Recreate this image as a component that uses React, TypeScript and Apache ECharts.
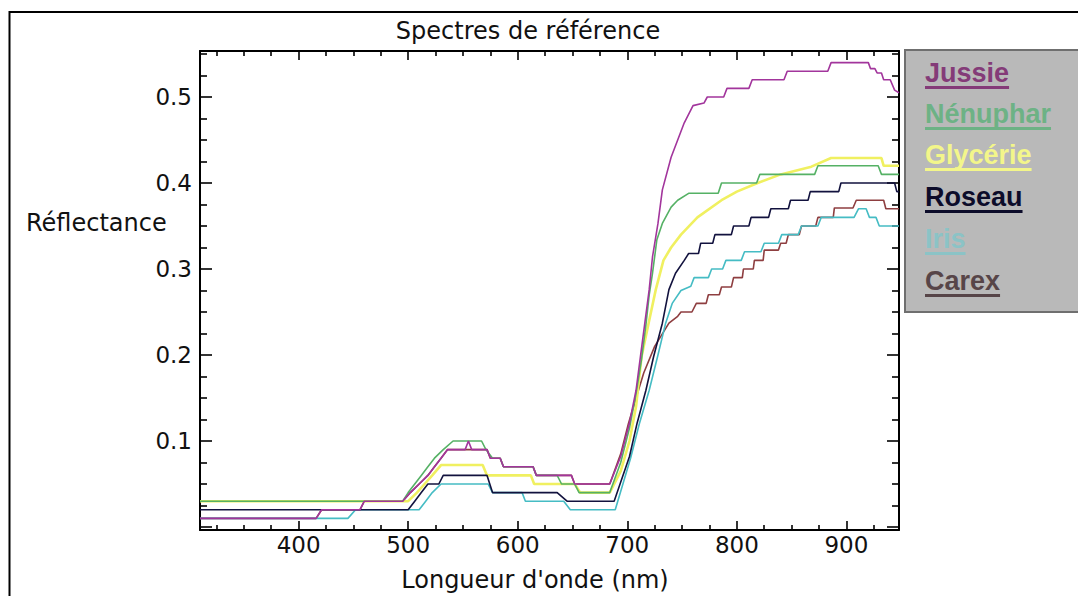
import React, { useEffect, useRef } from "react";
import * as echarts from "echarts";

// ---------- data ----------
const chartTitle = "Spectres de référence";
const xTitle = "Longueur d'onde (nm)";
const yTitle = "Réflectance";

const seriesNames = ["Jussie", "Nénuphar", "Glycérie", "Roseau", "Iris", "Carex"];

const jussie: [number, number][] = [
  [310, 0.01], [416, 0.01], [421, 0.02], [456, 0.02], [460, 0.03], [495, 0.03], [502, 0.04],
  [510, 0.05], [518, 0.06], [524, 0.07], [530, 0.08], [536, 0.09], [552, 0.09], [555, 0.1],
  [558, 0.09], [572, 0.09], [575, 0.08], [584, 0.08], [587, 0.07], [614, 0.07], [617, 0.06],
  [649, 0.06], [652, 0.05], [684, 0.05], [694, 0.082], [702, 0.121], [708, 0.159], [712, 0.198],
  [716, 0.237], [720, 0.276], [723, 0.314], [728, 0.353], [732, 0.392], [740, 0.43], [746, 0.45],
  [752, 0.47], [760, 0.49], [770, 0.493], [773, 0.5], [788, 0.5], [791, 0.51], [811, 0.51],
  [814, 0.52], [843, 0.52], [846, 0.53], [883, 0.53], [886, 0.54], [920, 0.54], [922, 0.533],
  [926, 0.533], [928, 0.528], [932, 0.528], [934, 0.52], [940, 0.52], [944, 0.508], [948, 0.505],
];

const nenuphar: [number, number][] = [
  [310, 0.03], [495, 0.03], [500, 0.04], [506, 0.05], [512, 0.06], [518, 0.07], [524, 0.08],
  [532, 0.09], [541, 0.1], [567, 0.1], [571, 0.09], [577, 0.08], [584, 0.08], [587, 0.07],
  [614, 0.07], [617, 0.06], [636, 0.06], [640, 0.05], [652, 0.05], [656, 0.04], [684, 0.04],
  [694, 0.075], [702, 0.115], [708, 0.155], [713, 0.195], [717, 0.235], [720, 0.27], [723, 0.295],
  [727, 0.334], [732, 0.353], [740, 0.372], [746, 0.38], [756, 0.388], [783, 0.388], [786, 0.4],
  [818, 0.4], [821, 0.41], [871, 0.41], [874, 0.42], [929, 0.42], [932, 0.41], [948, 0.41],
];

const glycerie: [number, number][] = [
  [310, 0.03], [500, 0.03], [508, 0.04], [515, 0.05], [522, 0.06], [530, 0.072], [568, 0.072],
  [572, 0.06], [612, 0.06], [615, 0.05], [652, 0.05], [657, 0.04], [684, 0.04], [694, 0.065],
  [702, 0.1], [708, 0.14], [713, 0.198], [720, 0.24], [726, 0.276], [733, 0.31], [740, 0.325],
  [749, 0.34], [764, 0.36], [786, 0.38], [800, 0.39], [819, 0.4], [840, 0.41], [868, 0.419],
  [886, 0.429], [932, 0.429], [934, 0.42], [948, 0.42],
];

const roseau: [number, number][] = [
  [310, 0.02], [500, 0.02], [506, 0.03], [512, 0.04], [518, 0.05], [528, 0.05], [532, 0.06],
  [572, 0.06], [577, 0.04], [636, 0.04], [645, 0.03],
  [688, 0.03], [702, 0.082], [709, 0.121], [717, 0.159], [724, 0.198], [732, 0.237], [738, 0.276],
  [744, 0.295], [752, 0.31], [756, 0.318], [765, 0.318], [767, 0.33], [778, 0.33], [780, 0.34],
  [795, 0.34], [797, 0.35], [811, 0.35], [813, 0.36], [829, 0.36], [831, 0.37], [847, 0.37],
  [849, 0.38], [865, 0.38], [867, 0.39], [893, 0.39], [895, 0.4], [944, 0.4], [946, 0.39], [948, 0.39],
];

const iris: [number, number][] = [
  [310, 0.01], [445, 0.01], [452, 0.02], [510, 0.02], [516, 0.03], [522, 0.04], [530, 0.05],
  [573, 0.05], [577, 0.04], [604, 0.04], [607, 0.03], [642, 0.03], [648, 0.02], [689, 0.02],
  [703, 0.08], [711, 0.12], [720, 0.159], [728, 0.2], [735, 0.237], [741, 0.26], [749, 0.275],
  [758, 0.28], [761, 0.29], [774, 0.29], [777, 0.3], [787, 0.3], [790, 0.31], [804, 0.31],
  [807, 0.32], [822, 0.32], [825, 0.33], [838, 0.33], [841, 0.34], [856, 0.34], [859, 0.35],
  [874, 0.35], [877, 0.36], [907, 0.36], [911, 0.37], [918, 0.37], [921, 0.36], [927, 0.36],
  [930, 0.35], [948, 0.35],
];

const carex: [number, number][] = [
  [310, 0.01], [416, 0.01], [421, 0.02], [456, 0.02], [460, 0.03], [495, 0.03], [502, 0.04],
  [510, 0.05], [518, 0.06], [524, 0.07], [530, 0.08], [536, 0.09], [572, 0.09], [575, 0.08],
  [584, 0.08], [587, 0.07], [614, 0.07], [617, 0.06], [649, 0.06], [652, 0.05], [684, 0.05],
  [694, 0.085], [701, 0.12], [708, 0.15], [715, 0.179], [725, 0.21], [738, 0.237], [746, 0.245],
  [749, 0.25], [759, 0.25], [763, 0.26], [772, 0.26], [774, 0.27], [784, 0.27], [786, 0.279],
  [795, 0.279], [797, 0.29], [805, 0.29], [806, 0.3], [815, 0.3], [816, 0.31], [824, 0.31],
  [825, 0.322], [838, 0.322], [840, 0.33], [845, 0.33], [847, 0.34], [857, 0.34], [859, 0.35],
  [872, 0.35], [874, 0.36], [888, 0.36], [889, 0.371], [906, 0.371], [909, 0.38], [934, 0.38],
  [936, 0.37], [948, 0.37],
];

const seriesData = [jussie, nenuphar, glycerie, roseau, iris, carex];

const xMin = 310;
const xMax = 948;
const yMin = -0.0035;
const yMax = 0.5535;

// ---------- styles ----------
const lineColors = ["#a2359c", "#55b165", "#f0f060", "#12123e", "#45bcc4", "#8e3e40"];
const lineWidths = [1.6, 1.6, 2.6, 1.6, 1.6, 1.6];
const legendTextColors = ["#843b78", "#6db285", "#f3f68a", "#0c0c2a", "#8bc3c6", "#574548"];
const drawOrder = [5, 4, 2, 3, 1, 0];
const legendBaselines = [82, 123, 164, 206, 248, 290];

export default function App() {
  const ref = useRef<HTMLDivElement>(null);

  useEffect(() => {
    if (!ref.current) return;
    const chart = echarts.init(ref.current, null, { renderer: "svg" });

    const legendFont = 'bold 27px "Liberation Sans"';
    const ctx = document.createElement("canvas").getContext("2d");
    if (ctx) ctx.font = legendFont;

    const legendEls: any[] = [
      {
        type: "rect",
        shape: { x: 905, y: 50, width: 200, height: 262 },
        style: { fill: "#b9b9b9", stroke: "#6f6f6f", lineWidth: 2 },
      },
    ];
    seriesNames.forEach((name, i) => {
      const w = ctx ? ctx.measureText(name).width : name.length * 15;
      const base = legendBaselines[i];
      legendEls.push({
        type: "text",
        x: 925,
        y: base - 9.5,
        style: {
          text: name,
          fill: legendTextColors[i],
          font: legendFont,
          align: "left",
          verticalAlign: "middle",
        },
      });
      legendEls.push({
        type: "rect",
        shape: { x: 925, y: base + 4, width: w, height: 3 },
        style: { fill: legendTextColors[i] },
      });
    });

    const tickFont = { fontFamily: "DejaVu Sans", fontSize: 23, color: "#111" };
    const axisLineStyle = { color: "#000", width: 2 };

    const commonX = {
      type: "value",
      min: xMin,
      max: xMax,
      splitNumber: 6,
      axisLine: { show: true, onZero: false, lineStyle: axisLineStyle },
      axisTick: { show: true, inside: true, length: 9, lineStyle: { color: "#000", width: 1.6 } },
      minorTick: { show: true, splitNumber: 4, length: 5, lineStyle: { color: "#000", width: 1.6 } },
      splitLine: { show: false },
      minorSplitLine: { show: false },
    };
    const commonY = {
      type: "value",
      min: yMin,
      max: yMax,
      splitNumber: 5,
      axisLine: { show: true, onZero: false, lineStyle: axisLineStyle },
      axisTick: { show: true, inside: true, length: 12, lineStyle: { color: "#000", width: 1.6 } },
      minorTick: { show: true, splitNumber: 4, length: 7, lineStyle: { color: "#000", width: 1.6 } },
      splitLine: { show: false },
      minorSplitLine: { show: false },
    };

    const isMultiple = (v: number, step: number) =>
      Math.abs(v / step - Math.round(v / step)) < 1e-6;

    chart.setOption({
      animation: false,
      backgroundColor: "#ffffff",
      grid: {
        left: 200,
        top: 51,
        width: 699,
        height: 479,
        containLabel: false,
        outerBoundsMode: "none",
      },
      xAxis: [
        {
          ...commonX,
          position: "bottom",
          axisLabel: {
            ...tickFont,
            margin: 15,
            verticalAlign: "middle",
            showMinLabel: true,
            showMaxLabel: true,
            hideOverlap: false,
            formatter: (v: number) => (isMultiple(v, 100) ? String(Math.round(v)) : ""),
          },
        },
        {
          ...commonX,
          position: "top",
          axisLabel: { show: false },
        },
      ],
      yAxis: [
        {
          ...commonY,
          position: "left",
          axisLabel: {
            ...tickFont,
            margin: 8,
            showMinLabel: true,
            showMaxLabel: true,
            hideOverlap: false,
            formatter: (v: number) => (v > 0.05 && isMultiple(v, 0.1) ? v.toFixed(1) : ""),
          },
        },
        {
          ...commonY,
          position: "right",
          axisLabel: { show: false },
        },
      ],
      series: drawOrder.map((i) => ({
        type: "line",
        name: seriesNames[i],
        xAxisIndex: 0,
        yAxisIndex: 0,
        data: seriesData[i],
        showSymbol: false,
        symbol: "none",
        silent: true,
        lineStyle: { color: lineColors[i], width: lineWidths[i] },
        itemStyle: { color: lineColors[i] },
      })),
      graphic: [
        {
          type: "rect",
          shape: { x: 9.5, y: 12, width: 1200, height: 800 },
          style: { fill: "none", stroke: "#000", lineWidth: 2 },
          z: 10,
        },
        {
          type: "text",
          x: 528,
          y: 31,
          style: {
            text: chartTitle,
            font: '24px "DejaVu Sans"',
            fill: "#111",
            align: "center",
            verticalAlign: "middle",
          },
        },
        {
          type: "text",
          x: 535,
          y: 580,
          style: {
            text: xTitle,
            font: '24px "DejaVu Sans"',
            fill: "#111",
            align: "center",
            verticalAlign: "middle",
          },
        },
        {
          type: "text",
          x: 26,
          y: 223,
          style: {
            text: yTitle,
            font: '24px "DejaVu Sans"',
            fill: "#111",
            align: "left",
            verticalAlign: "middle",
          },
        },
        ...legendEls,
      ],
    });

    return () => chart.dispose();
  }, []);

  return (
    <div
      ref={ref}
      style={{ position: "fixed", left: 0, top: 0, width: 1078, height: 596, background: "#fff" }}
    />
  );
}
